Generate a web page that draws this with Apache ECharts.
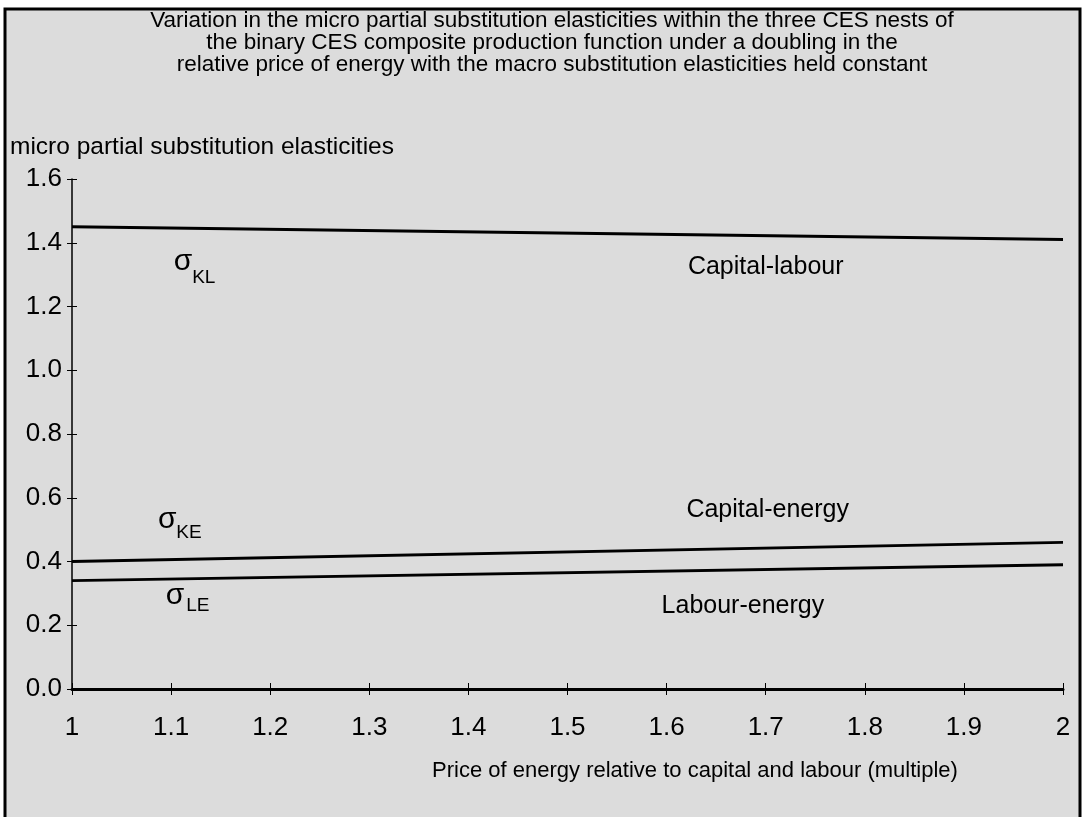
<!DOCTYPE html>
<html><head><meta charset="utf-8">
<script src="https://cdn.jsdelivr.net/npm/echarts@6/dist/echarts.min.js"></script>
<style>html,body{margin:0;padding:0;background:#fff}#c{width:1084px;height:817px}</style>
</head><body><div id="c"></div>
<script>
// ---- data ----
const xValues = [1, 2];
const capitalLabour = [1.45, 1.41];
const capitalEnergy = [0.40, 0.46];
const labourEnergy = [0.34, 0.39];
const seriesNames = ['Capital-labour', 'Capital-energy', 'Labour-energy'];
const sigmaSubs = ['KL', 'KE', 'LE'];
const titleLines = [
  'Variation in the micro partial substitution elasticities within the three CES nests of',
  'the binary CES composite production function under a doubling in the',
  'relative price of energy with the macro substitution elasticities held constant'
];
const yAxisTitle = 'micro partial substitution elasticities';
const xAxisTitle = 'Price of energy relative to capital and labour (multiple)';
// annotation anchors (data coordinates)
const nameAnchors = [[1.700, 1.323], [1.702, 0.562], [1.677, 0.260]];
const sigmaAnchors = [[1.112, 1.340], [1.096, 0.530], [1.104, 0.292]];
const subAnchors = [[1.133, 1.289], [1.118, 0.489], [1.127, 0.260]];

const FONT = '"Liberation Sans", Arial, Helvetica, sans-serif';
const chart = echarts.init(document.getElementById('c'));
const seriesData = [capitalLabour, capitalEnergy, labourEnergy];

function mp(coord, text, size) {
  return {
    coord: coord, symbol: 'circle', symbolSize: 1,
    itemStyle: {color: 'rgba(0,0,0,0)'},
    label: {show: true, position: 'inside', formatter: text, color: '#000',
      fontSize: size, fontFamily: FONT}
  };
}

const series = seriesData.map((vals, i) => ({
  type: 'line',
  name: seriesNames[i],
  data: xValues.map((x, j) => [x, vals[j]]),
  symbol: 'none',
  lineStyle: {color: '#000', width: 3},
  silent: true,
  markPoint: {
    silent: true,
    data: [
      mp(nameAnchors[i], seriesNames[i], 25),
      mp(sigmaAnchors[i], '\u03c3', 30),
      mp(subAnchors[i], sigmaSubs[i], 19)
    ]
  }
}));

const axisCommon = {
  type: 'value', min: 1, max: 2, interval: 0.1
};

chart.setOption({
  animation: false,
  backgroundColor: '#ffffff',
  textStyle: {fontFamily: FONT},
  graphic: [
    {type: 'rect', z: -10, shape: {x: 5, y: 9, width: 1075, height: 830},
      style: {fill: '#dcdcdc', stroke: '#000', lineWidth: 3}},
    {type: 'text', x: 552, y: 10, style: {text: titleLines.join('\n'), align: 'center',
      fontSize: 22.5, lineHeight: 22, fontFamily: FONT, fill: '#000'}},
    {type: 'text', x: 10, y: 147, style: {text: yAxisTitle, fontSize: 24.5, verticalAlign: 'middle',
      fontFamily: FONT, fill: '#000'}},
    {type: 'text', x: 695, y: 771, style: {text: xAxisTitle, align: 'center', verticalAlign: 'middle',
      fontSize: 22, fontFamily: FONT, fill: '#000'}}
  ],
  grid: {left: 72, right: 21, top: 179, bottom: 128},
  xAxis: [
    Object.assign({}, axisCommon, {
      axisLine: {show: true, onZero: false, lineStyle: {color: '#000', width: 3}},
      axisTick: {show: true, inside: false, length: 6, lineStyle: {color: '#000', width: 1}},
      axisLabel: {show: true, margin: 26, fontSize: 26, color: '#000', fontFamily: FONT},
      splitLine: {show: false}
    }),
    Object.assign({}, axisCommon, {
      position: 'bottom',
      axisLine: {show: false, onZero: false},
      axisTick: {show: true, inside: true, length: 6, lineStyle: {color: '#000', width: 1}},
      axisLabel: {show: false},
      splitLine: {show: false}
    })
  ],
  yAxis: [
    {
      type: 'value', min: 0, max: 1.6, interval: 0.2,
      axisLine: {show: true, onZero: false, lineStyle: {color: '#000', width: 1.5}},
      axisTick: {show: true, inside: false, length: 5, lineStyle: {color: '#000', width: 1}},
      axisLabel: {show: true, margin: 10, fontSize: 26, color: '#000', fontFamily: FONT,
        formatter: v => v.toFixed(1)},
      splitLine: {show: false}
    },
    {
      type: 'value', min: 0, max: 1.6, interval: 0.2, position: 'left',
      axisLine: {show: false},
      axisTick: {show: true, inside: true, length: 5, lineStyle: {color: '#000', width: 1}},
      axisLabel: {show: false},
      splitLine: {show: false}
    }
  ],
  series: series
});
</script>
</body></html>
